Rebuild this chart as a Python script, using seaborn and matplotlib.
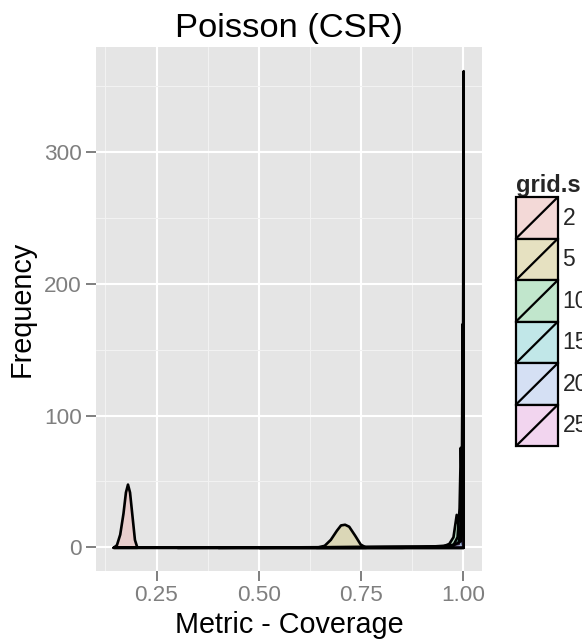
import numpy as np
import pandas as pd
import matplotlib
matplotlib.use("Agg")
import matplotlib.pyplot as plt
import seaborn as sns
from matplotlib.patches import Patch, Rectangle
from matplotlib.lines import Line2D
from matplotlib.legend_handler import HandlerPatch

# grid sizes and their density curves
grid_sizes = ["2", "5", "10", "15", "20", "25"]

x_2 = [0.144, 0.152, 0.160, 0.168, 0.174, 0.179, 0.184, 0.190, 0.196, 0.202]
y_2 = [0, 2, 10, 26, 42, 48, 42, 24, 6, 0]

x_5 = [0.640, 0.660, 0.675, 0.690, 0.700, 0.710, 0.720, 0.735, 0.748, 0.762]
y_5 = [0, 1.5, 6, 13, 17, 17.5, 16, 9, 2.5, 0]

x_10 = [0.144, 0.850, 0.950, 0.965, 0.975, 0.983, 0.990, 0.996, 1.0]
y_10 = [0, 0, 1, 3, 8, 25, 12, 5, 0]

x_15 = [0.300, 0.900, 0.975, 0.985, 0.990, 0.993, 0.996, 0.998, 1.0]
y_15 = [0, 0.5, 2, 8, 30, 76, 40, 20, 0]

x_20 = [0.400, 0.950, 0.988, 0.994, 0.996, 0.9975, 0.999, 1.0]
y_20 = [0, 1, 3, 20, 80, 170, 120, 0]

x_25 = [0.500, 0.970, 0.993, 0.997, 0.9985, 0.9995, 1.0, 1.0]
y_25 = [0, 1, 5, 40, 150, 300, 362, 0]

curves = {
    "2": (x_2, y_2), "5": (x_5, y_5), "10": (x_10, y_10),
    "15": (x_15, y_15), "20": (x_20, y_20), "25": (x_25, y_25),
}

hue_colors = ["#F8766D", "#B79F00", "#00BA38", "#00BFC4", "#619CFF", "#F564E3"]
fill_alpha = 0.2

sns.set_theme(style="darkgrid", rc={
    "axes.facecolor": "#E5E5E5",
    "grid.color": "white",
    "figure.facecolor": "white",
})
plt.rcParams["font.family"] = ["Liberation Sans", "DejaVu Sans"]

palette = sns.color_palette(hue_colors)

fig = plt.figure(figsize=(5.82, 6.43), dpi=100)
W, H = 582, 643
ax = fig.add_axes([96 / W, 1 - 571 / H, (482 - 96) / W, (571 - 47) / H])

for i, g in enumerate(grid_sizes):
    xs, ys = curves[g]
    df = pd.DataFrame({"x": xs, "y": ys})
    ax.fill_between(df["x"], 0, df["y"], facecolor=(*palette[i], fill_alpha),
                    edgecolor="black", linewidth=1.9, zorder=3)

ax.set_xlim(0.102, 1.046)
ax.set_ylim(-18, 380)
ax.set_xticks([0.25, 0.50, 0.75, 1.00])
ax.set_xticklabels(["0.25", "0.50", "0.75", "1.00"])
ax.set_yticks([0, 100, 200, 300])
ax.set_xticks([0.125, 0.375, 0.625, 0.875], minor=True)
ax.set_yticks([50, 150, 250, 350], minor=True)
ax.grid(which="major", color="white", linewidth=1.5)
ax.grid(which="minor", color="#F2F2F2", linewidth=0.8)
for s in ax.spines.values():
    s.set_visible(False)
ax.tick_params(which="major", length=7, width=1.4, color="#7F7F7F",
               labelcolor="#7F7F7F", labelsize=16.2, pad=3)
ax.tick_params(which="minor", length=0)
ax.tick_params(axis="x", bottom=True)
ax.tick_params(axis="y", left=True)

ax.set_xlabel("Metric - Coverage", fontsize=20.7, color="black", labelpad=4)
ax.set_ylabel("Frequency", fontsize=20.7, color="black", labelpad=6)
ax.set_title("Poisson (CSR)", fontsize=24.8, color="black", pad=7)


class KeyHandler(HandlerPatch):
    def create_artists(self, legend, orig_handle, xdescent, ydescent,
                       width, height, fontsize, trans):
        x0, y0 = -xdescent, -ydescent
        bg = Rectangle((x0, y0), width, height, facecolor="#F2F2F2",
                       edgecolor="none", transform=trans)
        key = Rectangle((x0, y0), width, height,
                        facecolor=orig_handle.get_facecolor(),
                        edgecolor="black", linewidth=1.6, transform=trans)
        diag = Line2D([x0, x0 + width], [y0, y0 + height], color="black",
                      linewidth=1.6, transform=trans)
        return [bg, key, diag]


handles = [Patch(facecolor=(*palette[i], fill_alpha)) for i in range(len(grid_sizes))]
leg = fig.legend(handles, grid_sizes, title="grid.size",
                 loc="upper left", bbox_to_anchor=(516 / W, 1 - 174 / H),
                 frameon=False, fontsize=16.5, borderpad=0, borderaxespad=0,
                 labelspacing=0, handlelength=1.83, handleheight=2.41,
                 handletextpad=0.2, alignment="left",
                 handler_map={Patch: KeyHandler()})
leg.get_title().set_fontweight("bold")
leg.get_title().set_fontsize(17)

fig.savefig("out.png", dpi=100)
